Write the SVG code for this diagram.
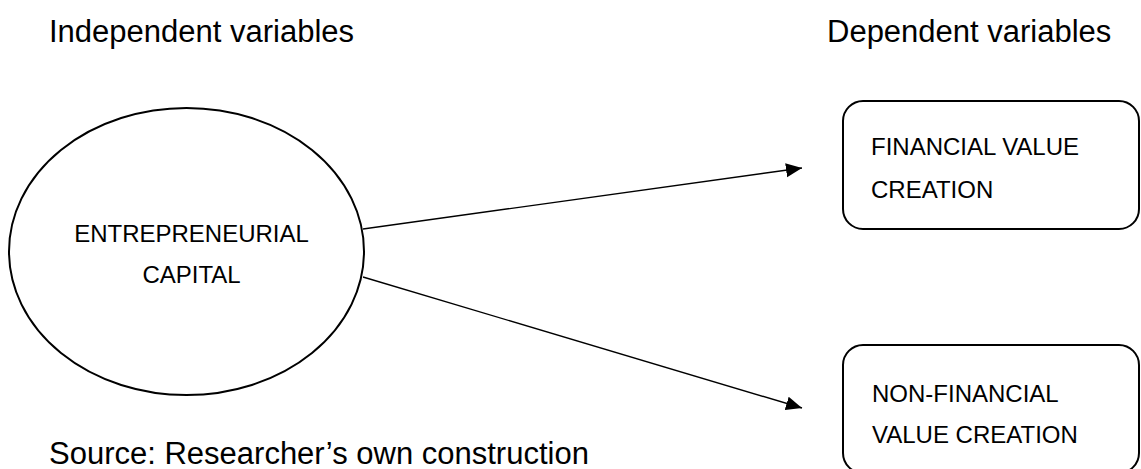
<svg xmlns="http://www.w3.org/2000/svg" width="1141" height="469" viewBox="0 0 1141 469">
<defs>
<style>
.t{font-family:"Liberation Sans",Arial,sans-serif;fill:#000}
.h{font-size:31px}
.n{font-size:24px}
.shape{fill:#fff;stroke:#000;stroke-width:2}
.conn{stroke:#000;stroke-width:1.4;fill:none}
</style>
<marker id="arr" markerUnits="userSpaceOnUse" markerWidth="17" markerHeight="15" refX="16" refY="7" orient="auto">
<path d="M0,0 L16,7 L0,14 z" fill="#000"/>
</marker>
</defs>
<rect width="1141" height="469" fill="#fff"/>
<text class="t h" x="49" y="42">Independent variables</text>
<text class="t h" x="827" y="42">Dependent variables</text>
<text class="t h" x="49" y="464">Source: Researcher’s own construction</text>
<g id="connectors">
<line class="conn" x1="363" y1="229" x2="802" y2="168" marker-end="url(#arr)"/>
<line class="conn" x1="363" y1="277" x2="802" y2="408" marker-end="url(#arr)"/>
</g>
<g id="node-entrepreneurial-capital">
<ellipse class="shape" cx="186.5" cy="251.5" rx="177.5" ry="143.5"/>
<text class="t n" x="191.5" y="242" text-anchor="middle">ENTREPRENEURIAL</text>
<text class="t n" x="191.5" y="283" text-anchor="middle">CAPITAL</text>
</g>
<g id="node-financial">
<rect class="shape" x="843" y="101" width="296" height="128" rx="20"/>
<text class="t n" x="871" y="155">FINANCIAL VALUE</text>
<text class="t n" x="871" y="198">CREATION</text>
</g>
<g id="node-nonfinancial">
<rect class="shape" x="843" y="345" width="296" height="128" rx="20"/>
<text class="t n" x="872" y="402">NON-FINANCIAL</text>
<text class="t n" x="872" y="443">VALUE CREATION</text>
</g>
</svg>
